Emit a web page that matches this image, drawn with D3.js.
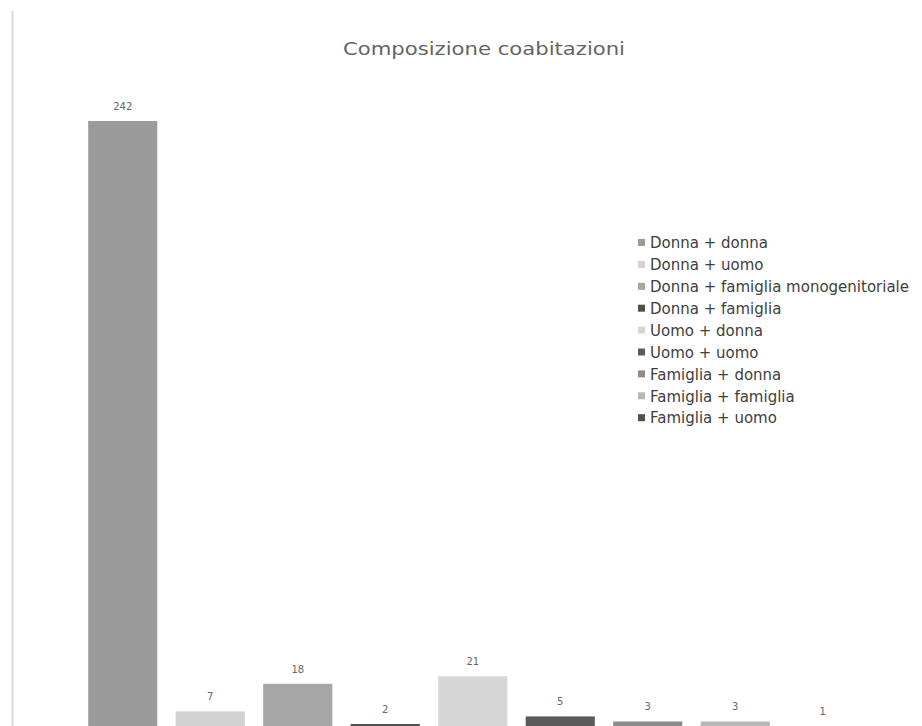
<!DOCTYPE html>
<html>
<head>
<meta charset="utf-8">
<script src="https://cdn.jsdelivr.net/npm/d3@7/dist/d3.min.js"></script>
<style>
  html, body { margin: 0; padding: 0; background: #fff; }
  svg { display: block; }
  text { font-family: "DejaVu Sans", "Open Sans", sans-serif; }
</style>
</head>
<body>
<script>
// Coabitazioni: one series, each category is its own bar with its own shade
const categories = [
  "Donna + donna",
  "Donna + uomo",
  "Donna + famiglia monogenitoriale",
  "Donna + famiglia",
  "Uomo + donna",
  "Uomo + uomo",
  "Famiglia + donna",
  "Famiglia + famiglia",
  "Famiglia + uomo"
];
const values = [242, 7, 18, 2, 21, 5, 3, 3, 1];
const colors = ["#9b9b9b", "#d2d2d2", "#a6a6a6", "#4f4f4f", "#d6d6d6", "#5a5a5a", "#8c8c8c", "#b7b7b7", "#505050"];
const title = "Composizione coabitazioni";

const W = 922, H = 726;
const svg = d3.select("body").append("svg").attr("width", W).attr("height", H);

// thin frame edge on the left
svg.append("line")
  .attr("x1", 12.5).attr("x2", 12.5).attr("y1", 11).attr("y2", H)
  .attr("stroke", "#d9d9d9").attr("stroke-width", 2);

svg.append("text")
  .attr("x", 484).attr("y", 55)
  .attr("text-anchor", "middle")
  .attr("font-size", 18)
  .attr("textLength", 282)
  .attr("lengthAdjust", "spacingAndGlyphs")
  .attr("fill", "#646464")
  .text(title);

const x = d3.scaleBand()
  .domain(categories)
  .range([79, 866.5])
  .paddingInner(0.21)
  .paddingOuter(0.105);

const y = d3.scaleLinear()
  .domain([0, 242])
  .range([729, 121]);

const g = svg.append("g");

g.selectAll("rect.bar")
  .data(categories)
  .join("rect")
  .attr("class", "bar")
  .attr("x", d => x(d))
  .attr("width", x.bandwidth())
  .attr("y", (d, i) => y(values[i]))
  .attr("height", (d, i) => y(0) - y(values[i]))
  .attr("fill", (d, i) => colors[i]);

g.selectAll("text.lbl")
  .data(categories)
  .join("text")
  .attr("class", "lbl")
  .attr("x", d => x(d) + x.bandwidth() / 2)
  .attr("y", (d, i) => y(values[i]) - 11)
  .attr("text-anchor", "middle")
  .attr("font-size", 10)
  .attr("fill", "#666")
  .text((d, i) => values[i]);

// legend
const legend = svg.append("g").attr("transform", "translate(638,243)");
const rowH = 21.9;
const item = legend.selectAll("g")
  .data(categories)
  .join("g")
  .attr("transform", (d, i) => `translate(0,${i * rowH})`);
item.append("rect")
  .attr("x", 0).attr("y", -4)
  .attr("width", 7).attr("height", 7)
  .attr("fill", (d, i) => colors[i]);
item.append("text")
  .attr("x", 12).attr("y", 0)
  .attr("dy", "0.35em")
  .attr("font-size", 15)
  .attr("fill", "#404040")
  .text(d => d);
</script>
</body>
</html>
